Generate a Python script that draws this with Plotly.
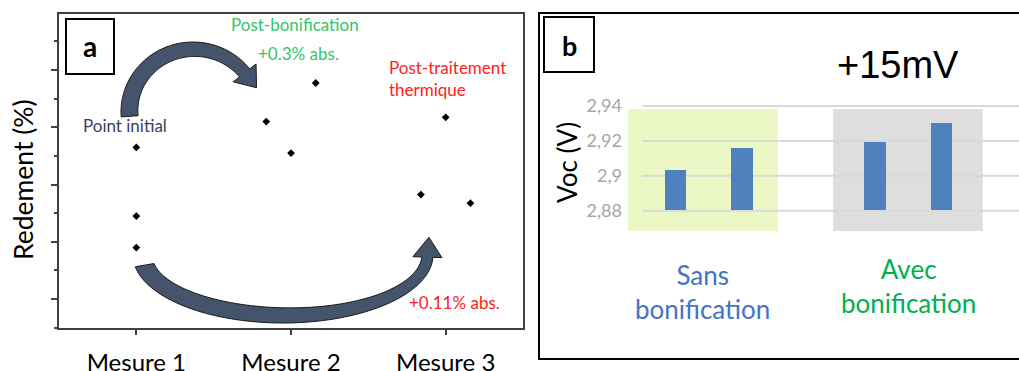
import numpy as np
import plotly.graph_objects as go

W, H = 1019, 371

# ---------------- Panel a data ----------------
mesures = ["Mesure 1", "Mesure 2", "Mesure 3"]
rendement_m1 = [20.53, 20.29, 20.18]
rendement_m2 = [20.62, 20.755, 20.51]
rendement_m3 = [20.635, 20.365, 20.335]
rendement_ticks = [20.0, 20.2, 20.4, 20.6, 20.8]

# ---------------- Panel b data ----------------
groupes = ["Sans bonification", "Avec bonification"]
voc_sans = [2.903, 2.916]
voc_avec = [2.919, 2.930]
voc_ticks = [2.88, 2.90, 2.92, 2.94]
voc_ticktext = ["2,88", "2,9", "2,92", "2,94"]

# small horizontal jitter used in the original point layout
jitter = [[0, 0, 0], [-0.16, 0.16, 0], [0, -0.16, 0.16]]

FONT = "Lato"


def px(x, y):
    return x / W, 1 - y / H


fig = go.Figure()

# ---- panel a scatter ----
for i, vals in enumerate([rendement_m1, rendement_m2, rendement_m3]):
    fig.add_trace(go.Scatter(
        x=[i + 1 + j for j in jitter[i]], y=vals, mode="markers",
        marker=dict(symbol="diamond", size=6, color="black"),
        xaxis="x", yaxis="y", showlegend=False, hoverinfo="y"))

# ---- panel b bars ----
base = voc_ticks[0]
for g, vals in enumerate([voc_sans, voc_avec]):
    xs = [g * 3 + k for k in range(len(vals))]
    fig.add_trace(go.Bar(
        x=xs, y=[v - base for v in vals], base=base, width=0.32,
        marker=dict(color="#4f81bd", line=dict(width=0)),
        xaxis="x2", yaxis="y2", showlegend=False, name=groupes[g]))

shapes = []
annotations = []

# panel b background highlight rectangles + grid lines
for x0, x1, col in [(-0.714, 1.54, "#ebf8c6"), (2.37, 4.62, "#dedede")]:
    shapes.append(dict(type="rect", xref="x2", yref="y2", x0=x0, x1=x1,
                       y0=2.8684, y1=2.9383, fillcolor=col, line=dict(width=0),
                       layer="below"))
for v in voc_ticks:
    shapes.append(dict(type="line", xref="x2", yref="y2", x0=-0.5, x1=6,
                       y0=v, y1=v, line=dict(color="#d9d9d9", width=2),
                       layer="below"))


def curved_arrow(cx, cy, rx, ry, th0, th1, t0, t1, barb, tip_len, n=80):
    ths = np.radians(np.linspace(th0, th1, n))
    ws = np.linspace(t0, t1, n)
    outer = [(cx + rx * np.cos(t), cy - ry * np.sin(t)) for t in ths]
    inner = [(cx + (rx - w) * np.cos(t), cy - (ry - w) * np.sin(t)) for t, w in zip(ths, ws)]
    te, we = ths[-1], ws[-1]
    ob = (cx + (rx + barb) * np.cos(te), cy - (ry + barb) * np.sin(te))
    ib = (cx + (rx - we - barb) * np.cos(te), cy - (ry - we - barb) * np.sin(te))
    mid = (cx + (rx - we / 2) * np.cos(te), cy - (ry - we / 2) * np.sin(te))
    sgn = np.sign(th1 - th0)
    dx, dy = -rx * np.sin(te) * sgn, -ry * np.cos(te) * sgn
    nrm = np.hypot(dx, dy)
    tip = (mid[0] + tip_len * dx / nrm, mid[1] + tip_len * dy / nrm)
    pts = outer + [ob, tip, ib] + inner[::-1]
    path = "M " + " L ".join(f"{px(a, b)[0]:.5f},{px(a, b)[1]:.5f}" for a, b in pts) + " Z"
    return dict(type="path", xref="paper", yref="paper", path=path,
                fillcolor="#44546a", line=dict(color="#1a1a1a", width=1))


shapes.append(curved_arrow(193, 112, 72, 70, 184, 38, 17, 13, 8, 19))
shapes.append(curved_arrow(283, 255, 150, 68, 190, 358, 19, 11, 9, 20))


def box(x0, y0, x1, y1, width=2):
    a0, b0 = px(x0, y0)
    a1, b1 = px(x1, y1)
    return dict(type="rect", xref="paper", yref="paper", x0=a0, x1=a1, y0=b1, y1=b0,
                line=dict(color="black", width=width), fillcolor="rgba(0,0,0,0)")


shapes.append(box(539, 13, 1030, 359))
shapes.append(box(66, 19, 114, 74))
shapes.append(box(544, 17, 594, 72))


def ann(text, x, y, size, color="black", xanchor="center", family=FONT, angle=0,
        align="center"):
    a, b = px(x, y)
    annotations.append(dict(text=text, x=a, y=b, xref="paper", yref="paper",
                            xanchor=xanchor, yanchor="middle", showarrow=False,
                            textangle=angle, align=align,
                            font=dict(family=family, size=size, color=color)))


ann("<b>a</b>", 90, 46, 28)
ann("<b>b</b>", 569, 45, 27)
ann("Post-bonification", 295, 24, 17, "#35c46a")
ann("+0.3% abs.", 298, 54, 17, "#35c46a")
ann("Post-traitement<br>thermique", 387, 78, 17, "#ff2020", xanchor="left", align="left")
ann("+0.11% abs.", 454, 302, 17, "#ff2020")
ann("Point initial", 81, 126, 17, "#3d3d5c", xanchor="left")
ann("Redement (%)", 23, 180, 26.5, angle=-90)
ann("Voc (V)", 567, 163, 26, angle=-90)
ann("+15mV", 898, 65, 38, family="Liberation Sans")
ann("Sans<br>bonification", 702, 292, 26, "#4472c4")
ann("Avec<br>bonification", 908, 286, 26, "#00b050")

axcol = "#404040"
fig.update_layout(
    width=W, height=H, margin=dict(l=0, r=0, t=0, b=0, autoexpand=False),
    paper_bgcolor="white", plot_bgcolor="rgba(0,0,0,0)",
    font=dict(family=FONT, color="black"),
    showlegend=False, bargap=0,
    xaxis=dict(domain=[59 / W, 523 / W], range=[0.5, 3.5],
               tickvals=[1, 2, 3], ticktext=mesures,
               ticks="outside", ticklen=5, tickcolor=axcol, tickwidth=1.5,
               showline=True, linecolor=axcol, linewidth=1.5, mirror=True,
               showgrid=False, zeroline=False, automargin=False,
               tickfont=dict(family=FONT, size=24, color="black"),
               ticklabelstandoff=7),
    yaxis=dict(domain=[1 - 328 / H, 1 - 14 / H], range=[19.899, 20.996],
               tickvals=rendement_ticks, showticklabels=False,
               ticks="outside", ticklen=6, tickcolor=axcol, tickwidth=1.5,
               minor=dict(dtick=0.1, tick0=19.9, ticks="outside", ticklen=3,
                          tickcolor=axcol, tickwidth=1.5, showgrid=False),
               showline=True, linecolor=axcol, linewidth=1.5, mirror=True,
               showgrid=False, zeroline=False, automargin=False),
    xaxis2=dict(domain=[628 / W, 1.0], range=[-0.714, 5.165],
                showticklabels=False, showgrid=False, zeroline=False,
                showline=False, anchor="y2", automargin=False),
    yaxis2=dict(domain=[1 - 236.9 / H, 1 - 97.3 / H], range=[2.865, 2.945],
                tickvals=voc_ticks, ticktext=voc_ticktext,
                tickfont=dict(family=FONT, size=18, color="#a6a6a6"),
                showgrid=False, zeroline=False, showline=False,
                ticklabelstandoff=5, anchor="x2", automargin=False),
    shapes=shapes, annotations=annotations,
)

fig.write_html("out.html", config={"displayModeBar": False},
               post_script="document.body.style.margin='0px';document.body.style.overflow='hidden';")
